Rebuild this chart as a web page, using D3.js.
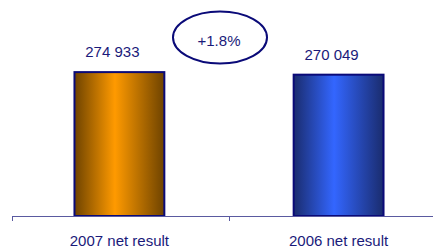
<!DOCTYPE html>
<html>
<head>
<meta charset="utf-8">
<script src="https://cdn.jsdelivr.net/npm/d3@7"></script>
<style>
  body { margin: 0; background: #fff; }
  text { font-family: "Liberation Sans", Arial, sans-serif; fill: #1a1a7a; }
</style>
</head>
<body>
<div id="chart"></div>
<script>
// chart data
var categories = ["2007 net result", "2006 net result"];
var values = [274933, 270049];
var valueLabels = ["274 933", "270 049"];
var changeLabel = "+1.8%";

var width = 433, height = 246;

var svg = d3.select("#chart").append("svg")
    .attr("width", width)
    .attr("height", height);

// gradients for the cylinder-like bars
var defs = svg.append("defs");
var gradColors = [
    ["#6e4300", "#ff9a00", "#6e4300"],
    ["#1a2c6e", "#3366ff", "#1a2c6e"]
];
gradColors.forEach(function(c, i) {
    var g = defs.append("linearGradient").attr("id", "grad" + i)
        .attr("x1", "0%").attr("x2", "100%").attr("y1", "0%").attr("y2", "0%");
    g.append("stop").attr("offset", "0%").attr("stop-color", c[0]);
    g.append("stop").attr("offset", "45%").attr("stop-color", c[1]);
    g.append("stop").attr("offset", "100%").attr("stop-color", c[2]);
});

var x = d3.scaleBand()
    .domain(categories)
    .range([12, 446])
    .paddingInner(0.59)
    .paddingOuter(0.285);

var y = d3.scaleLinear()
    .domain([0, 300000])
    .range([216, 59]);

// bars
svg.selectAll(".bar").data(values).enter().append("rect")
    .attr("class", "bar")
    .attr("x", function(d, i) { return x(categories[i]); })
    .attr("y", function(d) { return y(d); })
    .attr("width", x.bandwidth())
    .attr("height", function(d) { return y(0) - y(d); })
    .attr("fill", function(d, i) { return "url(#grad" + i + ")"; })
    .attr("stroke", "#0a0a78")
    .attr("stroke-width", 2);

// axis line with ticks at band boundaries
svg.append("line")
    .attr("x1", 12).attr("x2", width)
    .attr("y1", y(0) + 0.5).attr("y2", y(0) + 0.5)
    .attr("stroke", "#5a5aa0").attr("stroke-width", 1);

var tickXs = [x.range()[0], (x.range()[0] + x.range()[1]) / 2];
svg.selectAll(".tick").data(tickXs).enter().append("line")
    .attr("x1", function(d) { return d + 0.5; })
    .attr("x2", function(d) { return d + 0.5; })
    .attr("y1", y(0)).attr("y2", y(0) + 5)
    .attr("stroke", "#5a5aa0");

// value labels
svg.selectAll(".val").data(values).enter().append("text")
    .attr("x", function(d, i) { return x(categories[i]) + x.bandwidth() / 2 - 7; })
    .attr("y", function(d) { return y(d) - 15; })
    .attr("text-anchor", "middle")
    .style("font-size", "15px")
    .text(function(d, i) { return valueLabels[i]; });

// category labels
svg.selectAll(".cat").data(categories).enter().append("text")
    .attr("x", function(d) { return x(d) + x.bandwidth() / 2; })
    .attr("y", 246)
    .attr("text-anchor", "middle")
    .style("font-size", "15px")
    .text(function(d) { return d; });

// change bubble
svg.append("ellipse")
    .attr("cx", 220).attr("cy", 37.5)
    .attr("rx", 47).attr("ry", 26)
    .attr("fill", "none")
    .attr("stroke", "#0a0a78")
    .attr("stroke-width", 2);

svg.append("text")
    .attr("x", 219).attr("y", 46)
    .attr("text-anchor", "middle")
    .style("font-size", "15px")
    .text(changeLabel);
</script>
</body>
</html>
